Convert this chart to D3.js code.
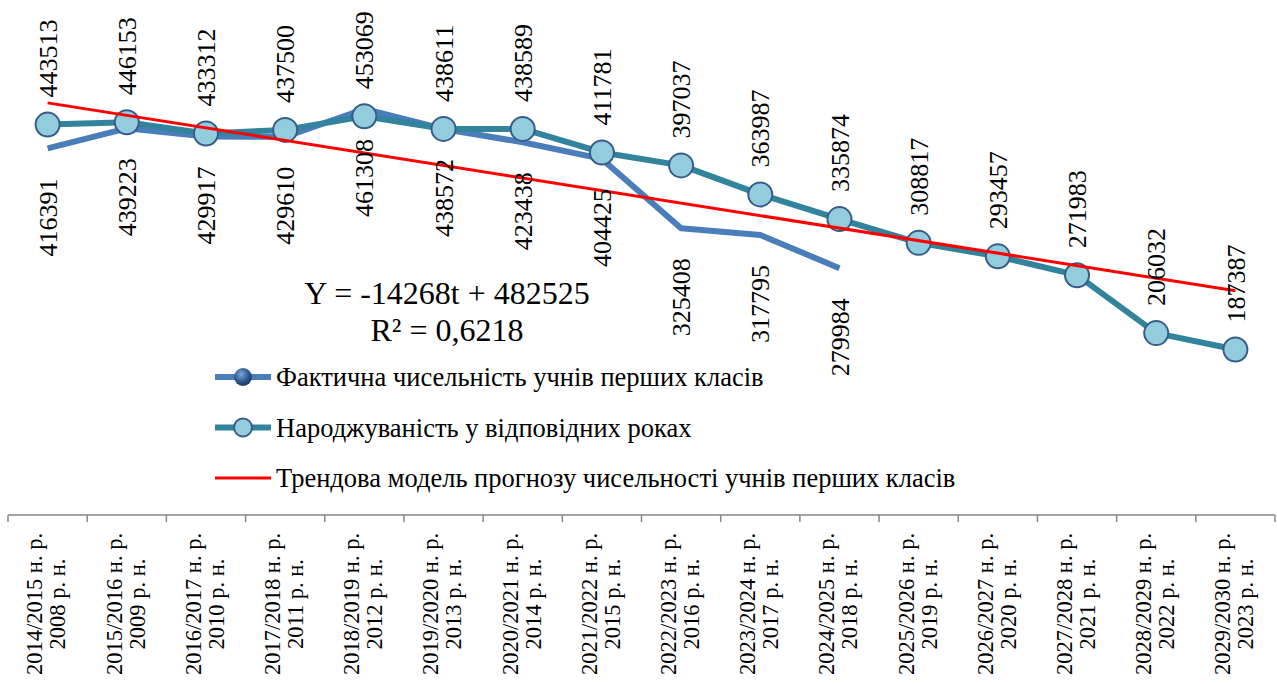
<!DOCTYPE html>
<meta charset="utf-8">
<style>

body {
  margin: 0;
  background: #fff;
}

text {
  font-family: "Liberation Serif", "Times New Roman", "DejaVu Serif", serif;
  fill: #000;
}

.axis path,
.axis line {
  fill: none;
  stroke: #868686;
  stroke-width: 1.5px;
}

.line {
  fill: none;
  stroke-width: 6px;
  stroke-linejoin: round;
}

.line--actual { stroke: #4a7ebb; }
.line--births { stroke: #31849b; }

.trend {
  stroke: #ff0000;
  stroke-width: 3px;
}

.dot {
  fill: #93cddd;
  stroke: #385d8a;
  stroke-width: 2px;
}

</style>
<body>
<script src="https://d3js.org/d3.v7.min.js"></script>
<script>

var schoolYears = ["2014/2015 н. р.", "2015/2016 н. р.", "2016/2017 н. р.", "2017/2018 н. р.",
  "2018/2019 н. р.", "2019/2020 н. р.", "2020/2021 н. р.", "2021/2022 н. р.",
  "2022/2023 н. р.", "2023/2024 н. р.", "2024/2025 н. р.", "2025/2026 н. р.",
  "2026/2027 н. р.", "2027/2028 н. р.", "2028/2029 н. р.", "2029/2030 н. р."];

var birthYears = ["2008 р. н.", "2009 р. н.", "2010 р. н.", "2011 р. н.",
  "2012 р. н.", "2013 р. н.", "2014 р. н.", "2015 р. н.",
  "2016 р. н.", "2017 р. н.", "2018 р. н.", "2019 р. н.",
  "2020 р. н.", "2021 р. н.", "2022 р. н.", "2023 р. н."];

// фактична чисельність учнів перших класів
var actual = [416391, 439223, 429917, 429610, 461308, 438572, 423438, 404425,
  325408, 317795, 279984];

// народжуваність у відповідних роках
var births = [443513, 446153, 433312, 437500, 453069, 438611, 438589, 411781,
  397037, 363987, 335874, 308817, 293457, 271983, 206032, 187387];

// лінія тренду: Y = -14268t + 482525, кінці при t = 1 і t = 16
var trendIndex = [0, 15];
var trendValues = [468257, 254237];

var equation = ["Y = -14268t + 482525", "R² = 0,6218"];

var legendLabels = ["Фактична чисельність учнів перших класів",
  "Народжуваність у відповідних роках",
  "Трендова модель прогнозу чисельності учнів перших класів"];

var width = 1277,
    height = 684;

var x = d3.scaleBand()
    .domain(d3.range(schoolYears.length))
    .range([8, 1275]);

var y = d3.scaleLinear()
    .domain([0, 500000])
    .range([514, 75]);

function cx(i) { return x(i) + x.bandwidth() / 2; }

var line = d3.line()
    .x(function(d, i) { return cx(i); })
    .y(function(d) { return y(d); });

var svg = d3.select("body").append("svg")
    .attr("width", width)
    .attr("height", height);

var defs = svg.append("defs");
var grad = defs.append("radialGradient")
    .attr("id", "sphere")
    .attr("cx", "40%")
    .attr("cy", "35%")
    .attr("r", "65%");
grad.append("stop").attr("offset", "0%").attr("stop-color", "#7fa6d6");
grad.append("stop").attr("offset", "60%").attr("stop-color", "#2f5d96");
grad.append("stop").attr("offset", "100%").attr("stop-color", "#1c3a63");

// вісь X
var axis = svg.append("g")
    .attr("class", "axis axis--x")
    .attr("transform", "translate(0," + 515 + ")");

axis.append("line")
    .attr("x1", 8)
    .attr("x2", 1275);

axis.selectAll(".tick")
    .data(d3.range(schoolYears.length + 1))
  .enter().append("line")
    .attr("class", "tick")
    .attr("x1", function(i) { return i < schoolYears.length ? x(i) : x.range()[1]; })
    .attr("x2", function(i) { return i < schoolYears.length ? x(i) : x.range()[1]; })
    .attr("y1", 0)
    .attr("y2", 7);

var tickLabel = svg.append("g")
    .selectAll("g")
    .data(schoolYears)
  .enter().append("g")
    .attr("transform", function(d, i) { return "translate(" + cx(i) + ",604) rotate(-90)"; })
    .style("font-size", "22.5px");

tickLabel.append("text")
    .attr("text-anchor", "middle")
    .attr("y", -13)
    .attr("dy", "0.35em")
    .text(function(d) { return d; });

tickLabel.append("text")
    .attr("text-anchor", "middle")
    .attr("y", 10)
    .attr("dy", "0.35em")
    .text(function(d, i) { return birthYears[i]; });

// лінії
svg.append("path")
    .datum(actual)
    .attr("class", "line line--actual")
    .attr("d", line);

svg.append("path")
    .datum(births)
    .attr("class", "line line--births")
    .attr("d", line);

svg.selectAll(".dot")
    .data(births)
  .enter().append("circle")
    .attr("class", "dot")
    .attr("cx", function(d, i) { return cx(i); })
    .attr("cy", function(d) { return y(d); })
    .attr("r", 12);

svg.append("line")
    .attr("class", "trend")
    .attr("x1", cx(trendIndex[0]))
    .attr("y1", y(trendValues[0]))
    .attr("x2", cx(trendIndex[1]))
    .attr("y2", y(trendValues[1]));

// підписи даних
svg.selectAll(".label-births")
    .data(births)
  .enter().append("text")
    .attr("class", "label-births")
    .attr("transform", function(d, i) { return "translate(" + cx(i) + "," + (y(d) - 27) + ") rotate(-90)"; })
    .attr("dy", "0.35em")
    .style("font-size", "26px")
    .text(function(d) { return d; });

svg.selectAll(".label-actual")
    .data(actual)
  .enter().append("text")
    .attr("class", "label-actual")
    .attr("transform", function(d, i) { return "translate(" + cx(i) + "," + (y(d) + 30) + ") rotate(-90)"; })
    .attr("text-anchor", "end")
    .attr("dy", "0.35em")
    .style("font-size", "26px")
    .text(function(d) { return d; });

// рівняння тренду
svg.selectAll(".equation")
    .data(equation)
  .enter().append("text")
    .attr("class", "equation")
    .attr("x", 447)
    .attr("y", function(d, i) { return 304 + i * 37; })
    .attr("text-anchor", "middle")
    .style("font-size", "32px")
    .text(function(d) { return d; });

// легенда
var legend = svg.selectAll(".legend")
    .data(legendLabels)
  .enter().append("g")
    .attr("class", "legend")
    .attr("transform", function(d, i) { return "translate(215," + (377 + i * 50.5) + ")"; });

legend.append("line")
    .attr("x1", 0)
    .attr("x2", 56)
    .attr("stroke", function(d, i) { return ["#4a7ebb", "#31849b", "#ff0000"][i]; })
    .attr("stroke-width", function(d, i) { return i < 2 ? 6 : 3; });

legend.filter(function(d, i) { return i === 0; })
  .append("circle")
    .attr("cx", 28)
    .attr("r", 9)
    .attr("fill", "url(#sphere)");

legend.filter(function(d, i) { return i === 1; })
  .append("circle")
    .attr("class", "dot")
    .attr("cx", 28)
    .attr("r", 9);

legend.append("text")
    .attr("x", 61)
    .attr("dy", "0.35em")
    .style("font-size", "26.5px")
    .text(function(d) { return d; });

</script>
